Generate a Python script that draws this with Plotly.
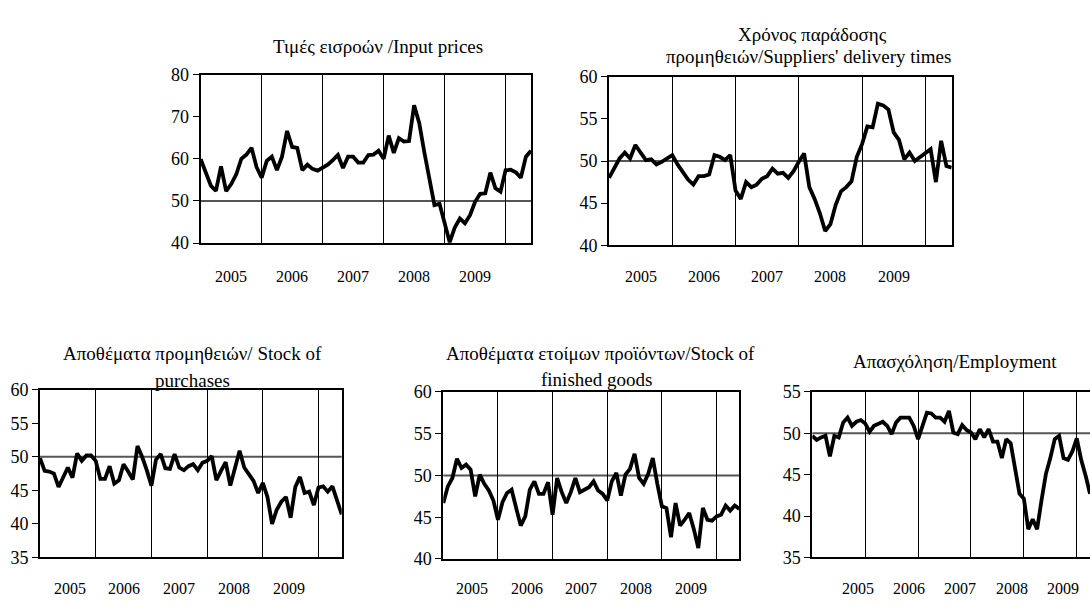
import plotly.graph_objects as go

W, H = 1090, 607
FONT = "Liberation Serif"
THRESHOLD = 50

# Monthly categories, January 2005 onwards
months = [f"{y}-{m:02d}" for y in range(2005, 2011) for m in range(1, 13)][:66]
years = ["2005", "2006", "2007", "2008", "2009"]
year_starts = ["2006-01", "2007-01", "2008-01", "2009-01", "2010-01"]

input_prices = [
    59.9, 57.0, 53.6, 52.4, 58.2, 52.3, 54.0, 56.3, 60.0, 61.0, 62.6, 58.0,
    55.5, 59.5, 60.5, 57.3, 60.5, 66.6, 62.8, 62.6, 57.3, 58.6, 57.6, 57.2,
    57.8, 58.6, 59.7, 60.9, 57.8, 60.5, 60.5, 59.1, 59.1, 60.9, 61.0, 61.9,
    60.0, 65.5, 61.4, 64.9, 64.1, 64.2, 72.7, 68.5, 61.6, 54.8, 49.0, 49.3,
    44.4, 40.2, 43.7, 45.8, 44.7, 46.6, 49.8, 51.7, 51.8, 56.7, 53.0, 52.2,
    57.3, 57.4, 56.8, 55.5, 60.5, 61.9,
]

delivery_times = [
    48.0, 49.2, 50.3, 51.0, 50.3, 51.9, 51.0, 50.1, 50.2, 49.6, 49.9, 50.3,
    50.7, 49.6, 48.6, 47.8, 47.2, 48.2, 48.2, 48.4, 50.7, 50.5, 50.1, 50.7,
    46.5, 45.5, 47.5, 46.9, 47.2, 47.9, 48.2, 49.1, 48.5, 48.6, 48.0, 48.8,
    49.9, 50.9, 46.9, 45.5, 43.8, 41.7, 42.5, 44.8, 46.4, 46.9, 47.6, 50.5,
    52.0, 54.1, 54.0, 56.8, 56.6, 56.1, 53.4, 52.5, 50.2, 51.0, 50.0, 50.5,
    50.9, 51.4, 47.5, 52.4, 49.4, 49.2,
]

stock_purchases = [
    49.8, 47.9, 47.8, 47.5, 45.5, 46.9, 48.4, 46.9, 50.5, 49.4, 50.2, 50.2,
    49.4, 46.7, 46.7, 48.6, 46.0, 46.5, 48.9, 47.8, 46.6, 51.6, 50.0, 48.0,
    45.7, 49.6, 50.4, 48.3, 48.2, 50.4, 48.4, 48.0, 48.6, 48.9, 48.0, 49.1,
    49.4, 50.1, 46.5, 47.9, 49.2, 45.7, 48.5, 50.9, 48.4, 47.5, 46.4, 44.6,
    46.1, 44.0, 40.0, 42.1, 43.3, 44.0, 40.9, 45.5, 47.0, 44.6, 44.8, 42.8,
    45.4, 45.6, 44.8, 45.6, 43.7, 41.4,
]

stock_finished = [
    46.7, 48.7, 49.7, 52.0, 50.9, 51.3, 50.7, 47.5, 50.1, 49.0, 48.2, 47.0,
    44.7, 46.8, 47.9, 48.3, 46.1, 44.0, 45.1, 48.3, 49.3, 47.8, 47.8, 49.2,
    45.3, 49.7, 48.0, 46.7, 48.0, 49.7, 48.0, 48.3, 48.6, 49.3, 48.2, 47.8,
    47.0, 49.3, 50.3, 47.6, 50.1, 50.8, 52.6, 49.7, 49.0, 50.2, 52.1, 49.0,
    46.3, 46.1, 42.6, 46.7, 44.0, 44.7, 45.5, 43.6, 41.3, 46.1, 44.7, 44.6,
    45.1, 45.3, 46.4, 45.8, 46.4, 46.0,
]

employment = [
    49.7, 49.2, 49.5, 49.7, 47.2, 49.7, 49.5, 51.3, 51.9, 50.9, 51.4, 51.6,
    51.2, 50.2, 50.9, 51.2, 51.4, 50.9, 49.9, 51.3, 51.9, 51.9, 51.9, 50.9,
    49.3, 50.9, 52.5, 52.4, 51.9, 51.9, 51.4, 52.7, 50.1, 49.9, 51.0, 50.4,
    50.1, 49.3, 50.5, 49.5, 50.5, 49.0, 49.0, 47.0, 49.3, 48.8, 45.8, 42.7,
    42.1, 38.4, 39.6, 38.4, 41.9, 45.1, 47.0, 49.3, 49.7, 47.0, 46.8, 47.8,
    49.4, 46.8, 44.9, 42.7,
]


def fx(px):
    return px / W


def fy(px):
    return 1 - px / H


# Panel layout: plot box in pixels (left, top, right, bottom), title lines, year label placement
panels = [
    dict(values=input_prices, yrange=(40, 80), dtick=10,
         box=(200.7, 66.7, 531.0, 241.0),
         titles=[("Τιμές εισροών /Input prices", 378, 38)],
         year_y=276, year_first=6.0, year_step=12.0, xmax=65, right=True),
    dict(values=delivery_times, yrange=(40, 60), dtick=5,
         box=(609.0, 69.0, 951.7, 243.3),
         titles=[("Χρόνος παράδοσης", 812, 25),
                 ("προμηθειών/Suppliers' delivery times", 808, 48)],
         year_y=276, year_first=6.0, year_step=12.0, xmax=65, right=True),
    dict(values=stock_purchases, yrange=(35, 60), dtick=5,
         box=(40.0, 392.7, 341.7, 566.0),
         titles=[("Αποθέματα προμηθειών/ Stock of", 192, 355),
                 ("purchases", 192, 383)],
         year_y=598, year_first=6.4, year_step=11.8, xmax=65, right=True),
    dict(values=stock_finished, yrange=(40, 60), dtick=5,
         box=(443.3, 395.0, 739.3, 567.7),
         titles=[("Αποθέματα ετοίμων προϊόντων/Stock of", 600, 355),
                 ("finished goods", 596, 382)],
         year_y=598, year_first=6.3, year_step=12.0, xmax=65, right=True),
    dict(values=employment, yrange=(35, 55), dtick=5,
         box=(812.3, 395.0, 1090.0, 566.0),
         titles=[("Απασχόληση/Employment", 955, 363)],
         year_y=598, year_first=10.4, year_step=11.6, xmax=63, right=False),
]

fig = go.Figure()
layout = dict(
    width=W, height=H,
    margin=dict(l=0, r=0, t=0, b=0),
    paper_bgcolor="white", plot_bgcolor="white",
    showlegend=False,
    font=dict(family=FONT, color="black", size=16),
)
annotations = []
shapes = []

for k, p in enumerate(panels, start=1):
    vals = p["values"]
    cats = months[:len(vals)]
    left, top, right, bottom = p["box"]
    suffix = "" if k == 1 else str(k)
    xa, ya = f"x{suffix}", f"y{suffix}"

    fig.add_trace(go.Scatter(
        x=cats, y=vals, mode="lines",
        line=dict(color="black", width=3.8),
        xaxis=xa, yaxis=ya, hoverinfo="skip",
    ))

    layout[f"xaxis{suffix}"] = dict(
        domain=[fx(left), fx(right)], anchor=ya,
        type="category", range=[0, p["xmax"]],
        tickmode="array", tickvals=year_starts,
        showticklabels=False, ticks="",
        showgrid=True, gridcolor="black", gridwidth=1,
        showline=True, linecolor="black", linewidth=2, mirror=True,
        zeroline=False,
    )
    layout[f"yaxis{suffix}"] = dict(
        domain=[fy(bottom), fy(top)], anchor=xa,
        range=list(p["yrange"]), tick0=p["yrange"][0], dtick=p["dtick"],
        ticks="outside", ticklen=6, tickwidth=1, tickcolor="black",
        showgrid=False, zeroline=False,
        showline=True, linecolor="black", linewidth=2,
        mirror=p["right"],
        tickfont=dict(family=FONT, size=18, color="black"),
    )

    # reference level at 50 across the full plot width
    shapes.append(dict(
        type="line", xref=f"{xa} domain", yref=ya,
        x0=0, x1=1, y0=THRESHOLD, y1=THRESHOLD,
        line=dict(color="#555555", width=2), layer="below",
    ))

    for text, cx, cy in p["titles"]:
        annotations.append(dict(
            text=text, xref="paper", yref="paper",
            x=fx(cx), y=fy(cy), xanchor="center", yanchor="middle",
            showarrow=False, font=dict(family=FONT, size=19, color="black"),
        ))

    for j, yr in enumerate(years):
        annotations.append(dict(
            text=yr, xref=xa, yref="paper",
            x=p["year_first"] + j * p["year_step"], y=fy(p["year_y"]),
            xanchor="center", yanchor="middle", showarrow=False,
            font=dict(family=FONT, size=16, color="black"),
        ))

layout["annotations"] = annotations
layout["shapes"] = shapes
fig.update_layout(**layout)

fig.write_html("out.html")
